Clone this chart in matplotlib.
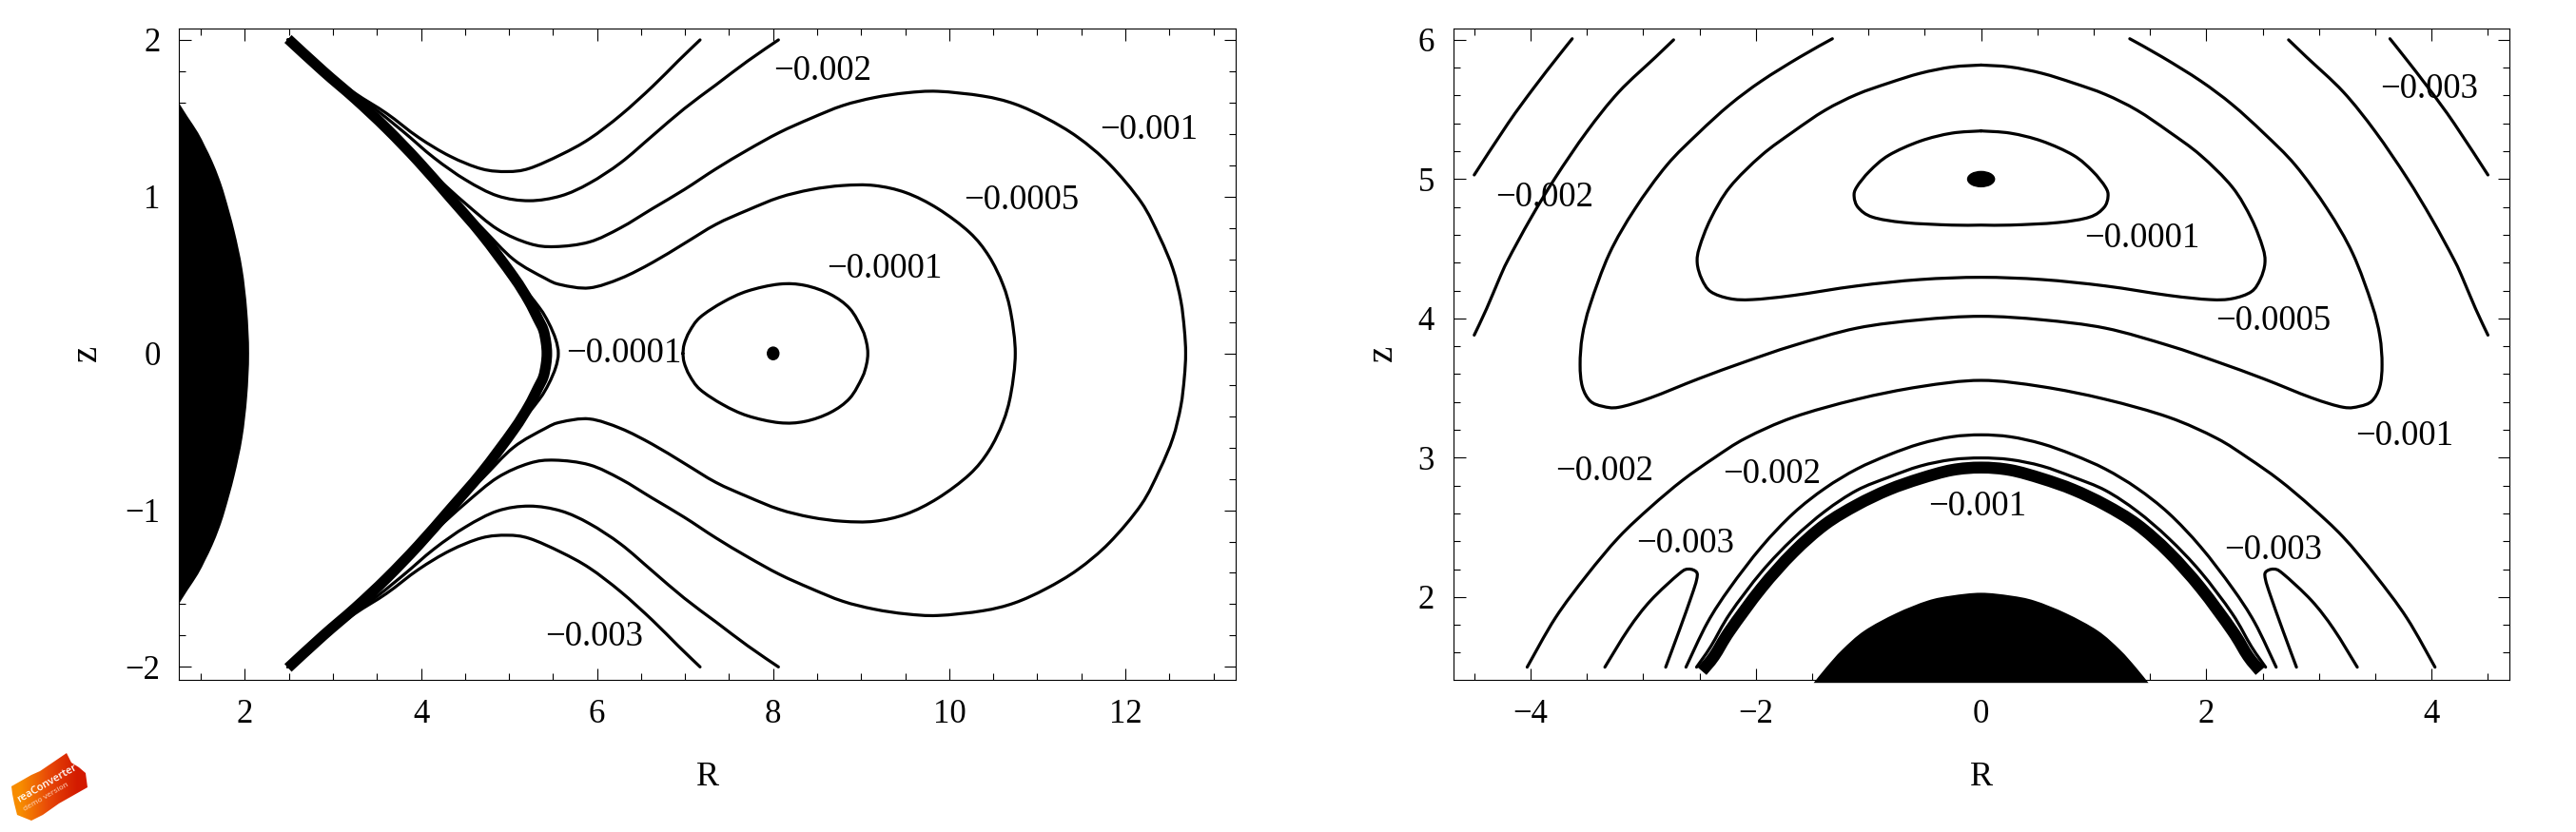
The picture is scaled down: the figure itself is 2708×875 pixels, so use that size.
import numpy as np
import matplotlib
matplotlib.use("Agg")
import matplotlib.pyplot as plt
from matplotlib.patches import Ellipse, Polygon, PathPatch
from matplotlib.path import Path
from matplotlib.ticker import MultipleLocator

plt.rcParams['font.family'] = ['Liberation Serif', 'DejaVu Serif']

W, H = 2708, 875

# left panel, upper half (z >= 0), lower half is the mirror image
blob_r = [1.24, 1.35, 1.468, 1.55, 1.63, 1.71, 1.774, 1.882, 1.972, 2.026, 2.048]
blob_z = [1.608, 1.51, 1.409, 1.32, 1.227, 1.115, 1.005, 0.782, 0.539, 0.276, 0.0]

l003_r = [2.49, 2.89, 3.25, 3.61, 3.97, 4.33, 4.69, 4.98, 5.23, 5.59, 5.914, 6.27, 6.63, 6.92, 7.17]
l003_z = [2.00, 1.81, 1.66, 1.531, 1.379, 1.258, 1.177, 1.16, 1.18, 1.268, 1.369, 1.521, 1.703, 1.865, 2.00]

l002_r = [2.49, 2.89, 3.25, 3.43, 3.79, 4.15, 4.51, 4.87, 5.23, 5.59, 5.914, 6.27, 6.63, 6.99, 7.35, 7.71, 8.06]
l002_z = [2.00, 1.80, 1.65, 1.581, 1.419, 1.247, 1.106, 1.005, 0.974, 1.005, 1.086, 1.217, 1.389, 1.561, 1.713, 1.865, 2.00]

l001_r = [2.49, 2.89, 3.25, 3.61, 3.97, 4.15, 4.51, 4.87, 5.23, 5.52, 5.914, 6.27, 6.63, 6.99, 7.35, 7.71,
          8.07, 8.43, 8.79, 9.15, 9.51, 9.87, 10.38, 10.74, 11.10, 11.46, 11.82, 12.18, 12.39, 12.54,
          12.63, 12.67, 12.685]
l001_z = [2.00, 1.80, 1.625, 1.44, 1.24, 1.136, 0.954, 0.792, 0.701, 0.681, 0.711, 0.802, 0.924, 1.045, 1.177, 1.298,
          1.409, 1.50, 1.581, 1.632, 1.662, 1.672, 1.642, 1.592, 1.501, 1.379, 1.207, 0.965, 0.742, 0.54,
          0.337, 0.155, 0.0]

l0005_r = [2.49, 2.89, 3.25, 3.61, 3.97, 4.33, 4.69, 5.05, 5.41, 5.59, 5.914, 6.27, 6.63, 6.99, 7.35, 7.71,
           8.07, 8.43, 8.79, 9.15, 9.51, 9.87, 10.23, 10.45, 10.61, 10.70, 10.75]
l0005_z = [2.00, 1.80, 1.625, 1.435, 1.23, 1.005, 0.802, 0.60, 0.479, 0.438, 0.418, 0.479, 0.58, 0.701, 0.823, 0.914,
           0.995, 1.045, 1.071, 1.071, 1.025, 0.924, 0.772, 0.621, 0.439, 0.257, 0.0]

l0001a_r = [2.49, 2.89, 3.25, 3.61, 3.97, 4.33, 4.69, 5.05, 5.34, 5.45, 5.53, 5.56]
l0001a_z = [2.00, 1.80, 1.625, 1.435, 1.225, 0.995, 0.76, 0.50, 0.296, 0.195, 0.09, 0.0]

band_r = [2.49, 2.89, 3.25, 3.61, 3.97, 4.33, 4.69, 5.05, 5.22, 5.33, 5.39, 5.42, 5.43]
band_z = [2.006, 1.80, 1.625, 1.435, 1.225, 0.995, 0.76, 0.49, 0.34, 0.22, 0.15, 0.07, 0.0]

l0001b_r = [6.975, 6.99, 7.05, 7.17, 7.43, 7.71, 8.07, 8.36, 8.65, 8.87, 9.01, 9.06, 9.075]
l0001b_z = [0.0, 0.06, 0.14, 0.23, 0.327, 0.398, 0.442, 0.434, 0.377, 0.286, 0.155, 0.07, 0.0]

left_labels = ["\u22120.002", "\u22120.001", "\u22120.0005", "\u22120.0001", "\u22120.0001", "\u22120.003"]
left_label_r = [8.556, 12.27, 10.82, 9.26, 6.30, 5.97]
left_label_z = [1.804, 1.426, 0.976, 0.537, 0.0, -1.81]

# right panel, right half (R >= 0), left half is the mirror image
disk_r = [0.0, 0.26, 0.473, 0.754, 1.036, 1.233, 1.374, 1.486]
disk_z = [2.03, 2.01, 1.974, 1.883, 1.758, 1.621, 1.495, 1.383]

a_r = [3.63, 3.76, 3.976, 4.20, 4.50]
a_z = [6.008, 5.876, 5.65, 5.40, 5.03]

b_r = [2.73, 2.89, 3.216, 3.50, 3.78, 4.00, 4.20, 4.28, 4.39, 4.50]
b_z = [6.0, 5.876, 5.626, 5.341, 5.01, 4.716, 4.42, 4.28, 4.07, 3.88]

c_r = [1.32, 1.61, 1.949, 2.23, 2.51, 2.79, 3.075, 3.30, 3.47, 3.54, 3.56, 3.54, 3.47, 3.36, 3.216, 2.934,
       2.51, 2.09, 1.667, 1.104, 0.54, 0.0]
c_z = [6.008, 5.876, 5.705, 5.535, 5.33, 5.10, 4.784, 4.465, 4.10, 3.874, 3.669, 3.51, 3.407, 3.369, 3.362, 3.43,
       3.566, 3.69, 3.805, 3.93, 3.99, 4.015]

d_r = [0.0, 0.26, 0.54, 0.82, 1.104, 1.386, 1.667, 1.949, 2.23, 2.40, 2.50, 2.52, 2.48, 2.40, 2.23, 2.03,
       1.667, 1.104, 0.54, 0.0]
d_z = [5.819, 5.805, 5.76, 5.69, 5.608, 5.494, 5.341, 5.171, 4.943, 4.716, 4.511, 4.397, 4.283, 4.192, 4.142, 4.135,
       4.165, 4.233, 4.279, 4.295]

e_r = [0.0, 0.26, 0.54, 0.82, 0.99, 1.104, 1.127, 1.09, 0.963, 0.68, 0.26, 0.0]
e_z = [5.346, 5.33, 5.273, 5.171, 5.057, 4.943, 4.875, 4.795, 4.727, 4.688, 4.67, 4.67]

f_r = [0.0, 0.54, 1.104, 1.667, 2.09, 2.37, 2.65, 2.934, 3.216, 3.50, 3.78, 4.03]
f_z = [3.555, 3.51, 3.419, 3.29, 3.14, 2.998, 2.838, 2.645, 2.429, 2.156, 1.849, 1.496]

g_r = [2.80, 2.68, 2.57, 2.526, 2.526, 2.597, 2.68, 2.934, 3.13, 3.34]
g_z = [1.496, 1.758, 2.008, 2.122, 2.178, 2.20, 2.167, 1.974, 1.77, 1.496]

h_r = [0.0, 0.26, 0.54, 0.82, 1.104, 1.386, 1.667, 1.949, 2.23, 2.43, 2.62]
h_z = [3.164, 3.15, 3.10, 3.02, 2.918, 2.78, 2.60, 2.36, 2.065, 1.815, 1.496]

i_r = [0.0, 0.26, 0.54, 0.82, 1.104, 1.386, 1.667, 1.949, 2.23, 2.40, 2.526]
i_z = [2.998, 2.986, 2.94, 2.86, 2.765, 2.615, 2.42, 2.18, 1.88, 1.644, 1.496]

j_r = [0.0, 0.26, 0.54, 0.82, 1.104, 1.386, 1.667, 1.949, 2.23, 2.37, 2.478]
j_z = [2.929, 2.911, 2.85, 2.77, 2.66, 2.52, 2.32, 2.065, 1.758, 1.575, 1.468]

right_labels = ["\u22120.003", "\u22120.0001", "\u22120.0005", "\u22120.001", "\u22120.003", "\u22120.001",
                "\u22120.002", "\u22120.002", "\u22120.002", "\u22120.003"]
right_label_r = [3.98, 1.43, 2.59, 3.76, 2.59, -0.035, -3.88, -3.34, -1.86, -2.63]
right_label_z = [5.645, 4.576, 3.977, 3.153, 2.336, 2.65, 4.87, 2.90, 2.88, 2.38]


def make_axes(fig, x0, y0, x1, y1):
    ax = fig.add_axes([x0 / W, 1 - y1 / H, (x1 - x0) / W, (y1 - y0) / H])
    for s in ax.spines.values():
        s.set_linewidth(0.8)
    ax.tick_params(which='major', direction='in', length=9, width=0.8, top=True, right=True,
                   labelsize=25, pad=14)
    ax.tick_params(which='minor', direction='in', length=5, width=0.8, top=True, right=True)
    ax.xaxis.set_major_locator(MultipleLocator(2))
    ax.xaxis.set_minor_locator(MultipleLocator(0.5))
    ax.yaxis.set_major_locator(MultipleLocator(1))
    ax.yaxis.set_minor_locator(MultipleLocator(0.2))
    return ax


def smooth_path(r, z):
    # bezier path running through the read points
    p = np.c_[r, z]
    p = np.vstack([p[0], p, p[-1]])
    verts = [p[1]]
    for k in range(1, len(p) - 2):
        verts += [p[k] + (p[k + 1] - p[k - 1]) / 6, p[k + 1] - (p[k + 2] - p[k]) / 6, p[k + 1]]
    codes = [Path.MOVETO] + [Path.CURVE4] * (len(verts) - 1)
    return Path(verts, codes)


def curve(ax, r, z, width=2.3, cap='round'):
    ax.add_patch(PathPatch(smooth_path(r, z), fc='none', ec='k', lw=width, capstyle=cap))


def mirror_z(r, z):
    return np.r_[r, r[-2::-1]], np.r_[z, -np.array(z)[-2::-1]]


def mirror_r(r, z):
    # r runs from R=0 outwards
    return np.r_[-np.array(r)[:0:-1], r], np.r_[z[:0:-1], z]


fig = plt.figure(figsize=(W / 100, H / 100), dpi=100)

# left panel
ax = make_axes(fig, 188, 29.6, 1298.7, 715.4)
r, z = mirror_z(blob_r, blob_z)
ax.add_patch(PathPatch(smooth_path(r, z), fc='k', ec='none', lw=0))
for r, z in [(l003_r, l003_z), (l002_r, l002_z)]:
    curve(ax, r, z)
    curve(ax, r, -np.array(z))
for r, z in [(l001_r, l001_z), (l0005_r, l0005_z), (l0001a_r, l0001a_z), (l0001b_r, l0001b_z)]:
    curve(ax, *mirror_z(r, z))
curve(ax, *mirror_z(band_r, band_z), width=8, cap='butt')
ax.add_patch(Ellipse((8, 0), 0.13, 0.08, color='k'))
for s, r, z in zip(left_labels, left_label_r, left_label_z):
    ax.text(r, z, s, fontsize=26.5, ha='center', va='center')
ax.set_xlim(1.25, 13.25)
ax.set_ylim(-2.085, 2.075)

# right panel
ax2 = make_axes(fig, 1527.5, 29.6, 2637.8, 715.4)
r, z = mirror_r(disk_r, disk_z)
ax2.add_patch(PathPatch(smooth_path(r, z), fc='k', ec='none', lw=0, clip_on=False))
for r, z in [(a_r, a_z), (b_r, b_z), (g_r, g_z)]:
    curve(ax2, r, z)
    curve(ax2, -np.array(r), z)
# c comes down from the top towards R=0, so it is joined the other way round
curve(ax2, np.r_[c_r, -np.array(c_r)[-2::-1]], np.r_[c_z, c_z[-2::-1]])
for r, z in [(f_r, f_z), (h_r, h_z), (i_r, i_z)]:
    curve(ax2, *mirror_r(r, z))
for r, z in [(d_r, d_z), (e_r, e_z)]:
    curve(ax2, np.r_[r, -np.array(r)[-2:0:-1], r[0]], np.r_[z, z[-2:0:-1], z[0]])
curve(ax2, *mirror_r(j_r, j_z), width=9, cap='butt')
ax2.add_patch(Ellipse((0, 5), 0.238, 0.109, color='k'))
for s, r, z in zip(right_labels, right_label_r, right_label_z):
    ax2.text(r, z, s, fontsize=26.5, ha='center', va='center')
ax2.set_xlim(-4.688, 4.689)
ax2.set_ylim(1.402, 6.084)

# axis labels
fig.text(743.7 / W, 1 - 817.5 / H, "R", fontsize=26, ha='center', va='center')
fig.text(2082.6 / W, 1 - 817.5 / H, "R", fontsize=26, ha='center', va='center')
fig.text(91.5 / W, 1 - 371 / H, "z", fontsize=28, rotation=90, ha='center', va='center')
fig.text(1453 / W, 1 - 371 / H, "z", fontsize=28, rotation=90, ha='center', va='center')

# converter stamp in the lower left corner
tag_x = [12, 33, 42, 70, 75, 83, 90, 92, 62, 45, 33, 18, 15, 13]
tag_y = [827, 815, 811, 792, 802, 807, 813, 828, 845, 857, 863, 857, 845, 835]
logo = fig.add_axes([0, 0, 1, 1], zorder=-1)
patch = Polygon(np.c_[tag_x, tag_y], closed=True, fc='none', ec='none')
logo.add_patch(patch)
grad = np.array([[0.0, 0.35, 0.7, 1.0]])
cm = matplotlib.colors.LinearSegmentedColormap.from_list('tag', ['#f78c00', '#e84a08', '#d31a00'])
im = logo.imshow(grad, extent=(12, 92, 863, 792), cmap=cm, aspect='auto', interpolation='bilinear')
im.set_clip_path(patch)
logo.set_xlim(0, W)
logo.set_ylim(H, 0)
logo.axis('off')
logo.text(50, 824, "reaConverter", color='w', fontsize=8, rotation=30, ha='center', va='center',
          family='Open Sans', weight='semibold')
logo.text(48, 838, "demo version", color='#ffd8c0', fontsize=6, rotation=30, ha='center', va='center',
          family='Open Sans')

fig.savefig("out.png", dpi=100)
